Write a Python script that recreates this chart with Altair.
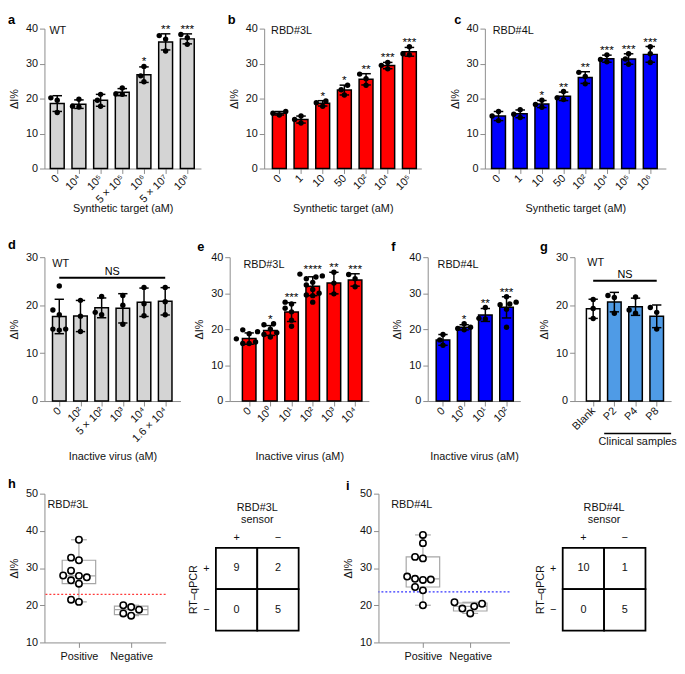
import json
import numpy as np
import pandas as pd
import altair as alt

FONT = "Liberation Sans"
AXIS = "#8c8c8c"
GREY = "#d4d4d4"
RED = "#ff0000"
BLUE = "#0000ff"
LBLUE = "#4f9be6"

# ---------------- data ----------------
a_labels = ["0", "10⁴", "10⁵", "5 × 10⁵", "10⁶", "5 × 10⁷", "10⁸"]
a_values = [[20.2, 19.5, 16.0], [19.8, 17.8, 17.6], [21.2, 19.5, 17.8], [23.0, 21.3, 21.2],
            [29.2, 26.5, 24.8], [38.0, 37.0, 33.6], [38.3, 37.4, 35.5]]
a_stars = ["", "", "", "", "*", "**", "***"]

b_labels = ["0", "1", "10", "50", "10²", "10⁴", "10⁵"]
b_values = [[16.3, 15.8, 15.3], [15.0, 14.0, 13.0], [19.3, 18.8, 17.8], [23.8, 22.5, 21.0],
            [27.0, 25.7, 23.8], [30.3, 29.5, 28.5], [34.8, 32.8, 32.5]]
b_stars = ["", "", "*", "*", "**", "***", "***"]

c_labels = ["0", "1", "10", "50", "10²", "10⁴", "10⁵", "10⁶"]
c_values = [[16.3, 15.0, 13.7], [16.8, 15.5, 14.6], [19.5, 18.3, 17.5], [22.0, 20.2, 19.7],
            [27.5, 26.3, 24.2], [32.5, 31.2, 30.5], [32.8, 31.3, 29.8], [34.8, 32.8, 30.3]]
c_stars = ["", "", "*", "**", "**", "***", "***", "***"]

d_labels = ["0", "10²", "5 × 10²", "10³", "10⁴", "1.6 × 10⁴"]
d_values = [[24.0, 19.0, 18.0, 15.0, 15.0, 14.8], [21.0, 17.7, 14.5], [21.8, 18.5, 18.0],
            [22.0, 20.0, 16.0], [23.7, 20.3, 17.8], [23.7, 20.7, 18.0]]
d_stars = ["", "", "", "", "", ""]
d_ns = 25.7

e_labels = ["0", "10⁰", "10¹", "10²", "10³", "10⁴"]
e_values = [[19.8, 18.7, 17.3, 16.0, 16.0, 16.4],
            [21.5, 21.2, 20.0, 19.0, 18.5, 17.8, 19.3],
            [27.5, 27.0, 25.8, 24.8, 22.5, 20.8],
            [35.3, 34.8, 34.5, 34.0, 33.0, 32.3, 31.0, 30.0, 29.5, 29.3, 27.5],
            [35.8, 32.8, 29.8], [35.2, 34.0, 31.8]]
e_stars = ["", "*", "***", "****", "**", "***"]

f_labels = ["0", "10⁰", "10¹", "10²"]
f_values = [[18.5, 17.0, 15.5], [21.5, 20.5, 19.8, 20.2], [26.0, 23.0, 22.8],
            [29.0, 27.5, 27.0, 26.8, 25.5, 20.5]]
f_stars = ["", "*", "**", "***"]

g_labels = ["Blank", "P2", "P4", "P8"]
g_values = [[21.2, 19.3, 17.2], [22.0, 21.6, 18.3], [21.7, 19.0, 18.3], [19.5, 18.5, 15.0]]
g_stars = ["", "", "", ""]
g_ns = 25.1

h_pos = [37.6, 32.8, 32.1, 29.3, 27.5, 27.9, 28.0, 26.7, 25.8, 20.9, 21.5]
h_neg = [20.0, 17.2, 18.8, 19.5, 17.8]
h_thr = 22.9
i_pos = [38.9, 36.7, 33.0, 32.6, 27.7, 26.8, 27.1, 26.9, 24.9, 24.0, 20.0]
i_neg = [20.4, 20.8, 19.7, 19.1, 17.8]
i_thr = 23.6

tbl_signs = ["+", "−"]
h_counts = [[9, 2], [0, 5]]    # rows: RT-qPCR +/−, cols: sensor +/−
i_counts = [[10, 1], [0, 5]]


# ---------------- helpers ----------------
def swarm(vals, ppu, diam=6.5):
    order = sorted(range(len(vals)), key=lambda k: vals[k])
    placed = []
    offs = [0.0] * len(vals)
    cands = [0.0]
    for j in range(1, 12):
        cands += [-j * diam / 2, j * diam / 2]
    for k in order:
        y = vals[k] * ppu
        chosen = cands[-1]
        for c in cands:
            if all((c - px) ** 2 + (y - py) ** 2 >= (diam * 0.95) ** 2 for px, py in placed):
                chosen = c
                break
        placed.append((chosen, y))
        offs[k] = chosen
    return offs


def letter_mark(letter, lx, ly):
    return alt.Chart(pd.DataFrame({"t": [letter]})).mark_text(
        align="left", baseline="middle", fontSize=13, fontWeight="bold", color="black").encode(
        text="t:N", x=alt.value(lx), y=alt.value(ly))


def y_axis(values):
    return alt.Axis(values=values, grid=False, domainColor=AXIS, tickColor=AXIS, tickSize=5,
                    labelFontSize=11, labelPadding=2, title="ΔI%", titleFontSize=11,
                    titleFontWeight="normal", titlePadding=6, labelColor="#111", titleColor="#111")


def bar_panel(letter, lpos, tag, tag_dx, tag_dy, labels, values, stars, colors, ymax, height, step,
              L, R, xtitle=None, title_y=38, ns_y=None, clinical=False):
    n = len(labels)
    width = step * (n - 1 + L + R)
    ppu = height / ymax
    brows, prows = [], []
    for i, vals in enumerate(values):
        m = float(np.mean(vals))
        sd = float(np.std(vals, ddof=1))
        brows.append(dict(i=i, b1=i - 0.32, b2=i + 0.32, c1=i - 0.22, c2=i + 0.22, base=0.0,
                          mean=m, lo=m - sd, hi=m + sd, top=max(m + sd, max(vals)),
                          star=stars[i], col=colors[i]))
        for v, o in zip(vals, swarm(vals, ppu)):
            prows.append(dict(xj=i + o / step, v=v))
    bdf = pd.DataFrame(brows)
    pdf = pd.DataFrame(prows)
    xs = alt.Scale(domain=[-L, n - 1 + R], nice=False, zero=False)
    ys = alt.Scale(domain=[0, ymax], nice=False)
    ax_kw = dict(values=list(range(n)),
                 labelExpr=json.dumps(labels, ensure_ascii=False) + "[datum.value]",
                 labelAngle=315, labelAlign="right", labelBaseline="middle",
                 labelFontSize=11, labelPadding=3, labelOverlap=False,
                 labelFlush=False, grid=False, domainColor=AXIS, tickColor=AXIS, tickSize=5,
                 labelColor="#111")
    if xtitle:
        ax_kw.update(title=xtitle, titleFontSize=11, titleFontWeight="normal", titleY=title_y,
                     titleBaseline="middle", titleColor="#111")
    else:
        ax_kw.update(title="")
    xa = alt.Axis(**ax_kw)
    ya = y_axis(list(range(0, ymax + 1, 10)))

    def X(f):
        return alt.X(f, scale=xs, axis=xa)

    def Y(f):
        return alt.Y(f, scale=ys, axis=ya)

    bars = alt.Chart(bdf).mark_rect(stroke="black", strokeWidth=1.5).encode(
        x=X("b1:Q"), x2="b2", y=Y("mean:Q"), y2="base", fill=alt.Fill("col:N", scale=None))
    err = alt.Chart(bdf).mark_rule(color="black", strokeWidth=1.5).encode(
        x=X("i:Q"), y=Y("lo:Q"), y2="hi")
    capt = alt.Chart(bdf).mark_rule(color="black", strokeWidth=1.5).encode(
        x=X("c1:Q"), x2="c2", y=Y("hi:Q"))
    capb = alt.Chart(bdf).mark_rule(color="black", strokeWidth=1.5).encode(
        x=X("c1:Q"), x2="c2", y=Y("lo:Q"))
    pts = alt.Chart(pdf).mark_circle(size=30, color="black", opacity=1).encode(
        x=X("xj:Q"), y=Y("v:Q"))
    st = alt.Chart(bdf).mark_text(baseline="alphabetic", dy=-1, fontSize=12, color="black").encode(
        x=X("i:Q"), y=Y("top:Q"), text="star:N")
    tg = alt.Chart(pd.DataFrame({"t": [tag]})).mark_text(
        align="left", baseline="middle", fontSize=11, color="#111").encode(
        text="t:N", x=alt.value(tag_dx), y=alt.value(tag_dy))
    layers = [bars, err, capt, capb, pts, st, tg, letter_mark(letter, *lpos)]
    if ns_y is not None:
        nsdf = pd.DataFrame({"x1": [0], "x2": [n - 1], "y": [ns_y], "xm": [(n - 1) / 2], "t": ["NS"]})
        layers.append(alt.Chart(nsdf).mark_rule(color="black", strokeWidth=2).encode(
            x=X("x1:Q"), x2="x2", y=Y("y:Q")))
        layers.append(alt.Chart(nsdf).mark_text(baseline="bottom", dy=-1, fontSize=11).encode(
            x=X("xm:Q"), y=Y("y:Q"), text="t:N"))
    if clinical:
        k = labels.index("P2")
        cdf = pd.DataFrame({"x1": [k - 0.48], "x2": [n - 1 + R], "xm": [(k - 0.48 + n - 1 + R) / 2],
                            "t": ["Clinical samples"]})
        layers.append(alt.Chart(cdf).mark_rule(color="black", strokeWidth=1.5).encode(
            x=X("x1:Q"), x2="x2", y=alt.value(height + 33)))
        layers.append(alt.Chart(cdf).mark_text(baseline="top", fontSize=11, color="#111").encode(
            x=X("xm:Q"), y=alt.value(height + 36), text="t:N"))
    return alt.layer(*layers).properties(width=width, height=height)


def box_panel(letter, lpos, tag, tag_dx, tag_dy, pos, neg, thr, thr_color, height, width, L, R):
    step = width / (1 + L + R)
    ppu = height / 40.0
    half = 17.0 / step
    cap = 8.0 / step
    srows, prows = [], []
    for i, vals in enumerate([pos, neg]):
        q1, med, q3 = np.percentile(vals, [25, 50, 75], method="weibull")
        srows.append(dict(i=i, b1=i - half, b2=i + half, c1=i - cap, c2=i + cap,
                          mn=min(vals), mx=max(vals), q1=q1, med=med, q3=q3))
        for v, o in zip(vals, swarm(vals, ppu, 8.0)):
            prows.append(dict(xj=i + o / step, v=v))
    sdf = pd.DataFrame(srows)
    pdf = pd.DataFrame(prows)
    xs = alt.Scale(domain=[-L, 1 + R], nice=False, zero=False)
    ys = alt.Scale(domain=[10, 50], nice=False, zero=False)
    xa = alt.Axis(values=[0, 1], labelExpr="['Positive','Negative'][datum.value]",
                  labelAngle=0, labelFontSize=11, labelPadding=3, grid=False,
                  domainColor=AXIS, tickColor=AXIS, tickSize=5, title="", labelColor="#111")
    ya = y_axis([10, 20, 30, 40, 50])

    def X(f):
        return alt.X(f, scale=xs, axis=xa)

    def Y(f):
        return alt.Y(f, scale=ys, axis=ya)

    BOX = "#a6a6a6"
    whisk = alt.Chart(sdf).mark_rule(color=BOX, strokeWidth=1.2).encode(
        x=X("i:Q"), y=Y("mn:Q"), y2="mx")
    capt = alt.Chart(sdf).mark_rule(color=BOX, strokeWidth=1.2).encode(
        x=X("c1:Q"), x2="c2", y=Y("mx:Q"))
    capb = alt.Chart(sdf).mark_rule(color=BOX, strokeWidth=1.2).encode(
        x=X("c1:Q"), x2="c2", y=Y("mn:Q"))
    box = alt.Chart(sdf).mark_rect(fill="white", stroke=BOX, strokeWidth=1.2).encode(
        x=X("b1:Q"), x2="b2", y=Y("q1:Q"), y2="q3")
    medr = alt.Chart(sdf).mark_rule(color=BOX, strokeWidth=1.2).encode(
        x=X("b1:Q"), x2="b2", y=Y("med:Q"))
    thr_l = alt.Chart(pd.DataFrame({"y": [thr]})).mark_rule(
        color=thr_color, strokeWidth=1.3, strokeDash=[2, 2]).encode(y=Y("y:Q"))
    pts = alt.Chart(pdf).mark_point(shape="circle", size=42, fill="white", fillOpacity=1,
                                    stroke="black", strokeWidth=1.6, opacity=1).encode(
        x=X("xj:Q"), y=Y("v:Q"))
    tg = alt.Chart(pd.DataFrame({"t": [tag]})).mark_text(
        align="left", baseline="middle", fontSize=11, color="#111").encode(
        text="t:N", x=alt.value(tag_dx), y=alt.value(tag_dy))
    return alt.layer(whisk, capt, capb, box, medr, thr_l, pts, tg,
                     letter_mark(letter, *lpos)).properties(width=width, height=height)


def table_panel(name, counts, height):
    cell = 42.0
    top_px = 55.0
    ytop = 2 + top_px / cell
    ybot = ytop - height / cell
    rows = []
    for r, pcr in enumerate(tbl_signs):
        for c, sen in enumerate(tbl_signs):
            y0 = 1 - r
            rows.append(dict(x1=c, x2=c + 1, y1=y0, y2=y0 + 1, xm=c + 0.5, ym=y0 + 0.5,
                             n=counts[r][c]))
    df = pd.DataFrame(rows)
    xs = alt.Scale(domain=[0, 2], nice=False, zero=False)
    ys = alt.Scale(domain=[ybot, ytop], nice=False, zero=False)
    ya = alt.Axis(values=[1.5, 0.5], labelExpr="datum.value > 1 ? '+' : '−'", labelAngle=0,
                  domain=False, ticks=False, grid=False, labelFontSize=11, labelPadding=7,
                  title="RT–qPCR", titlePadding=4, titleFontSize=11, titleFontWeight="normal",
                  titleY=top_px + cell, titleColor="#111", labelColor="#111")

    def X(f):
        return alt.X(f, scale=xs, axis=None)

    def Y(f):
        return alt.Y(f, scale=ys, axis=ya)

    rect = alt.Chart(df).mark_rect(fill="white", stroke="black", strokeWidth=1.8).encode(
        x=X("x1:Q"), x2="x2", y=Y("y1:Q"), y2="y2")
    txt = alt.Chart(df).mark_text(fontSize=11, color="#111").encode(
        x=X("xm:Q"), y=Y("ym:Q"), text="n:Q")
    hdr = pd.DataFrame({"xm": [0.5, 1.5], "y": [2 + 10 / cell] * 2, "t": tbl_signs})
    htxt = alt.Chart(hdr).mark_text(fontSize=11, color="#111", baseline="middle").encode(
        x=X("xm:Q"), y=Y("y:Q"), text="t:N")
    ttl = pd.DataFrame({"xm": [1.0, 1.0], "y": [2 + 40 / cell, 2 + 28 / cell], "t": [name, "sensor"]})
    ttxt = alt.Chart(ttl).mark_text(fontSize=11, color="#111", baseline="middle").encode(
        x=X("xm:Q"), y=Y("y:Q"), text="t:N")
    return alt.layer(rect, txt, htxt, ttxt).properties(width=2 * cell, height=height)


# ---------------- panels ----------------
S1 = 22.0
H1 = 142
pa = bar_panel("a", (-37, -9), "WT", 5, 2, a_labels, a_values, a_stars, [GREY] * 7, 40, H1, S1,
               0.59, 0.63, xtitle="Synthetic target (aM)", title_y=41)
pb = bar_panel("b", (-37, -9), "RBD#3L", 7, 2, b_labels, b_values, b_stars, [RED] * 7, 40, H1, S1,
               0.7, 0.55, xtitle="Synthetic target (aM)", title_y=41)
pc = bar_panel("c", (-31, -9), "RBD#4L", 8, 2, c_labels, c_values, c_stars, [BLUE] * 8, 40, H1, S1,
               0.63, 0.72, xtitle="Synthetic target (aM)", title_y=41)

S2 = 21.5
H2 = 146
pd_ = bar_panel("d", (-37, -12), "WT", 8, 7, d_labels, d_values, d_stars, [GREY] * 6, 30, H2, S2,
                0.7, 0.72, xtitle="Inactive virus (aM)", title_y=56, ns_y=d_ns)
pe = bar_panel("e", (-33, -10), "RBD#3L", 14, 8, e_labels, e_values, e_stars, [RED] * 6, 40, H2, S2,
               0.92, 0.65, xtitle="Inactive virus (aM)", title_y=56)
pf = bar_panel("f", (-37, -10), "RBD#4L", 10, 8, f_labels, f_values, f_stars, [BLUE] * 4, 40, H2, S2,
               0.72, 0.65, xtitle="Inactive virus (aM)", title_y=56)
pg = bar_panel("g", (-35, -10), "WT", 13, 6, g_labels, g_values, g_stars,
               ["white", LBLUE, LBLUE, LBLUE], 30, H2, S2, 0.88, 0.68, ns_y=g_ns, clinical=True)

H3 = 151
ph = box_panel("h", (-37, -10), "RBD#3L", 3, 12, h_pos, h_neg, h_thr, "#ff3b3b", H3, 123, 0.66, 0.66)
pt1 = table_panel("RBD#3L", h_counts, H3)
pi = box_panel("i", (-33, -8), "RBD#4L", 13, 12, i_pos, i_neg, i_thr, "#3535ff", H3, 133, 0.94, 0.83)
pt2 = table_panel("RBD#4L", i_counts, H3)

row1 = alt.hconcat(pa, pb, pc, spacing=27)
row2 = alt.hconcat(alt.hconcat(pd_, pe, spacing=12), alt.hconcat(pf, pg, spacing=18), spacing=22)
row3 = alt.hconcat(alt.hconcat(ph, pt1, spacing=21), alt.hconcat(pi, pt2, spacing=24), spacing=43)

chart = alt.vconcat(alt.vconcat(row1, row2, spacing=26), row3, spacing=17).properties(
    padding={"left": 0, "top": 1, "right": 0, "bottom": 0}
).configure(font=FONT).configure_view(stroke=None)

chart.save("out.html", embed_options={"renderer": "svg", "actions": False})
